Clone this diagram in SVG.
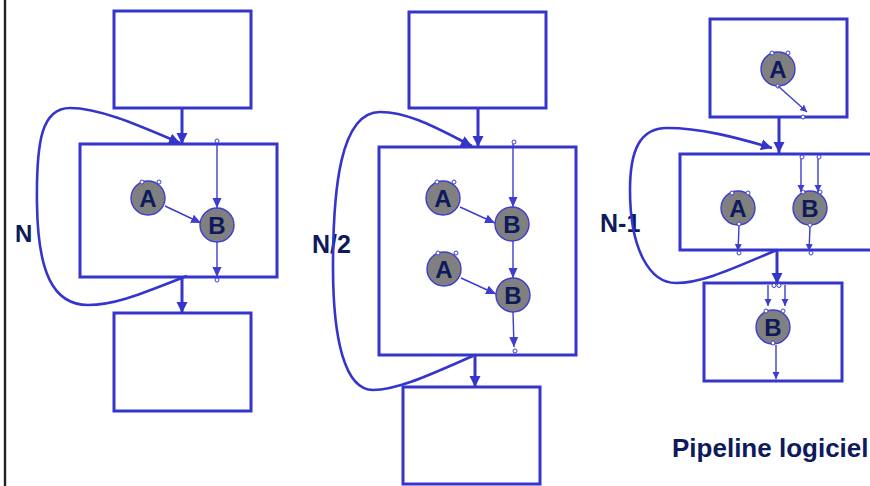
<svg xmlns="http://www.w3.org/2000/svg" width="870" height="486" viewBox="0 0 870 486">
<defs>
<style>
.box{fill:none;stroke:#3535cc;stroke-width:3}
.thick{fill:none;stroke:#3535cc;stroke-width:3}
.loop{fill:none;stroke:#3535cc;stroke-width:2.6}
.thin{fill:none;stroke:#3d3dd0;stroke-width:1.4}
.node{fill:#808080;stroke:#3d3dd0;stroke-width:1.4}
.pt{fill:#fff;stroke:#3d3dd0;stroke-width:1}
.lbl{font-family:"Liberation Sans",Arial,sans-serif;font-weight:bold;fill:#0d1a5c}
.nl{font-size:24px;text-anchor:middle}
</style>
<marker id="big" markerUnits="userSpaceOnUse" markerWidth="12" markerHeight="12" refX="11" refY="6" orient="auto">
<path d="M0,0.5 L11,6 L0,11.5 z" fill="#3535cc"/>
</marker>
<marker id="sm" markerUnits="userSpaceOnUse" markerWidth="10" markerHeight="10" refX="10" refY="5" orient="auto">
<path d="M0,0.5 L10,5 L0,9.5 z" fill="#3d3dd0"/>
</marker>
<marker id="xs" markerUnits="userSpaceOnUse" markerWidth="8" markerHeight="8" refX="7" refY="3.5" orient="auto">
<path d="M0,0 L7,3.5 L0,7 z" fill="#3d3dd0"/>
</marker>
</defs>
<rect width="870" height="486" fill="#fff"/>
<line x1="5" y1="0" x2="5" y2="486" stroke="#222" stroke-width="2.4"/>

<!-- Panel 1 -->
<g id="p1-top"><rect class="box" x="114" y="11" width="137" height="97"/></g>
<g id="p1-mid"><rect class="box" x="80" y="144" width="197" height="133"/></g>
<g id="p1-bot"><rect class="box" x="114" y="313" width="137" height="98"/></g>
<g id="p1-A"><circle class="node" cx="148" cy="198" r="17"/><text class="lbl nl" x="148" y="206.5">A</text><circle class="pt" cx="142" cy="182" r="2"/><circle class="pt" cx="159" cy="182" r="2"/></g>
<g id="p1-B"><circle class="node" cx="217" cy="225" r="17"/><text class="lbl nl" x="217" y="233.5">B</text></g>
<g id="p1-label"><text class="lbl" x="15" y="241.5" font-size="24">N</text></g>

<!-- Panel 2 -->
<g id="p2-top"><rect class="box" x="409" y="12" width="137" height="96"/></g>
<g id="p2-mid"><rect class="box" x="379" y="147" width="197" height="208"/></g>
<g id="p2-bot"><rect class="box" x="403" y="387" width="137" height="97"/></g>
<g id="p2-A1"><circle class="node" cx="443" cy="198" r="17"/><text class="lbl nl" x="443" y="206.5">A</text><circle class="pt" cx="437" cy="182" r="2"/><circle class="pt" cx="454" cy="182" r="2"/></g>
<g id="p2-B1"><circle class="node" cx="512" cy="224" r="17"/><text class="lbl nl" x="512" y="232.5">B</text></g>
<g id="p2-A2"><circle class="node" cx="444" cy="269" r="17"/><text class="lbl nl" x="444" y="277.5">A</text><circle class="pt" cx="438" cy="253" r="2"/><circle class="pt" cx="456" cy="253" r="2"/></g>
<g id="p2-B2"><circle class="node" cx="513" cy="295" r="17"/><text class="lbl nl" x="513" y="303.5">B</text></g>
<g id="p2-label"><text class="lbl" x="312" y="252.5" font-size="25">N/2</text></g>

<!-- Panel 3 -->
<g id="p3-top"><rect class="box" x="710" y="19" width="137" height="98"/></g>
<g id="p3-mid"><rect class="box" x="680" y="154" width="200" height="96"/></g>
<g id="p3-bot"><rect class="box" x="704" y="283" width="138" height="98"/></g>
<g id="p3-A0"><circle class="node" cx="778" cy="69" r="17"/><text class="lbl nl" x="778" y="77.5">A</text><circle class="pt" cx="772" cy="53" r="2"/><circle class="pt" cx="788" cy="53" r="2"/><circle class="pt" cx="778" cy="86" r="2"/></g>
<g id="p3-A1"><circle class="node" cx="738" cy="208" r="17"/><text class="lbl nl" x="738" y="216.5">A</text><circle class="pt" cx="732" cy="193" r="2"/><circle class="pt" cx="748" cy="193" r="2"/><circle class="pt" cx="739" cy="224" r="2"/></g>
<g id="p3-B1"><circle class="node" cx="810" cy="208" r="17"/><text class="lbl nl" x="810" y="216.5">B</text><circle class="pt" cx="803" cy="192" r="2"/><circle class="pt" cx="820" cy="192" r="2"/><circle class="pt" cx="810" cy="225" r="2"/></g>
<g id="p3-B2"><circle class="node" cx="773" cy="327" r="17"/><text class="lbl nl" x="773" y="335.5">B</text><circle class="pt" cx="766" cy="311" r="2"/><circle class="pt" cx="783" cy="311" r="2"/><circle class="pt" cx="773" cy="343" r="2"/></g>
<g id="p3-label"><text class="lbl" x="600" y="231.5" font-size="25">N-1</text></g>
<g id="title"><text class="lbl" x="672" y="457" font-size="26">Pipeline logiciel</text></g>

<g id="connectors">
<!-- panel 1 -->
<line class="thick" x1="182" y1="108" x2="182" y2="144" marker-end="url(#big)"/>
<line class="thick" x1="182" y1="277" x2="182" y2="313" marker-end="url(#big)"/>
<path class="loop" d="M187,276 C150,290 118,305 88,305 C52,305 38,270 37,205 C36,140 42,108 70,108 C100,108 140,126 180,143" marker-end="url(#big)"/>
<line class="thin" x1="165" y1="206" x2="201" y2="223" marker-end="url(#sm)"/>
<line class="thin" x1="217" y1="143" x2="217" y2="208" marker-end="url(#sm)"/>
<line class="thin" x1="217" y1="242" x2="217" y2="277" marker-end="url(#sm)"/>
<circle class="pt" cx="217" cy="141" r="2"/>
<circle class="pt" cx="217" cy="280" r="2"/>
<!-- panel 2 -->
<line class="thick" x1="478" y1="108" x2="478" y2="147" marker-end="url(#big)"/>
<line class="thick" x1="475" y1="355" x2="475" y2="387" marker-end="url(#big)"/>
<path class="loop" d="M473,356 C440,370 400,390 373,390 C345,390 333,340 333,267 C333,190 340,112 380,112 C410,112 440,130 472,146" marker-end="url(#big)"/>
<line class="thin" x1="460" y1="207" x2="495" y2="223" marker-end="url(#sm)"/>
<line class="thin" x1="461" y1="278" x2="496" y2="294" marker-end="url(#sm)"/>
<line class="thin" x1="513" y1="144" x2="513" y2="207" marker-end="url(#sm)"/>
<line class="thin" x1="513" y1="241" x2="513" y2="278" marker-end="url(#sm)"/>
<line class="thin" x1="513" y1="312" x2="514" y2="347" marker-end="url(#sm)"/>
<circle class="pt" cx="514" cy="142" r="2"/>
<circle class="pt" cx="515" cy="351" r="2"/>
<!-- panel 3 -->
<line class="thin" x1="778" y1="86" x2="807" y2="112" marker-end="url(#xs)"/>
<circle class="pt" cx="803" cy="117" r="2"/>
<line class="thick" x1="779" y1="117" x2="779" y2="153" marker-end="url(#big)"/>
<path class="loop" d="M777,250 C740,265 705,283 676,283 C650,283 630,250 630,190 C630,150 640,128 667,128 C700,128 735,137 772,148" marker-end="url(#big)"/>
<line class="thin" x1="801" y1="159" x2="801" y2="192" marker-end="url(#xs)"/>
<line class="thin" x1="818" y1="159" x2="818" y2="192" marker-end="url(#xs)"/>
<circle class="pt" cx="802" cy="157" r="2"/>
<circle class="pt" cx="819" cy="157" r="2"/>
<line class="thin" x1="739" y1="226" x2="738" y2="251" marker-end="url(#xs)"/>
<circle class="pt" cx="739" cy="253" r="2"/>
<line class="thin" x1="810" y1="227" x2="809" y2="251" marker-end="url(#xs)"/>
<circle class="pt" cx="811" cy="253" r="2"/>
<line class="thick" x1="777" y1="250" x2="777" y2="284" marker-end="url(#big)"/>
<line class="thin" x1="768" y1="285" x2="768" y2="306" marker-end="url(#xs)"/>
<line class="thin" x1="785" y1="285" x2="785" y2="306" marker-end="url(#xs)"/>
<circle class="pt" cx="774" cy="285.5" r="2"/>
<circle class="pt" cx="779" cy="285.5" r="2"/>
<line class="thin" x1="776" y1="345" x2="776" y2="379" marker-end="url(#xs)"/>
</g>
</svg>
